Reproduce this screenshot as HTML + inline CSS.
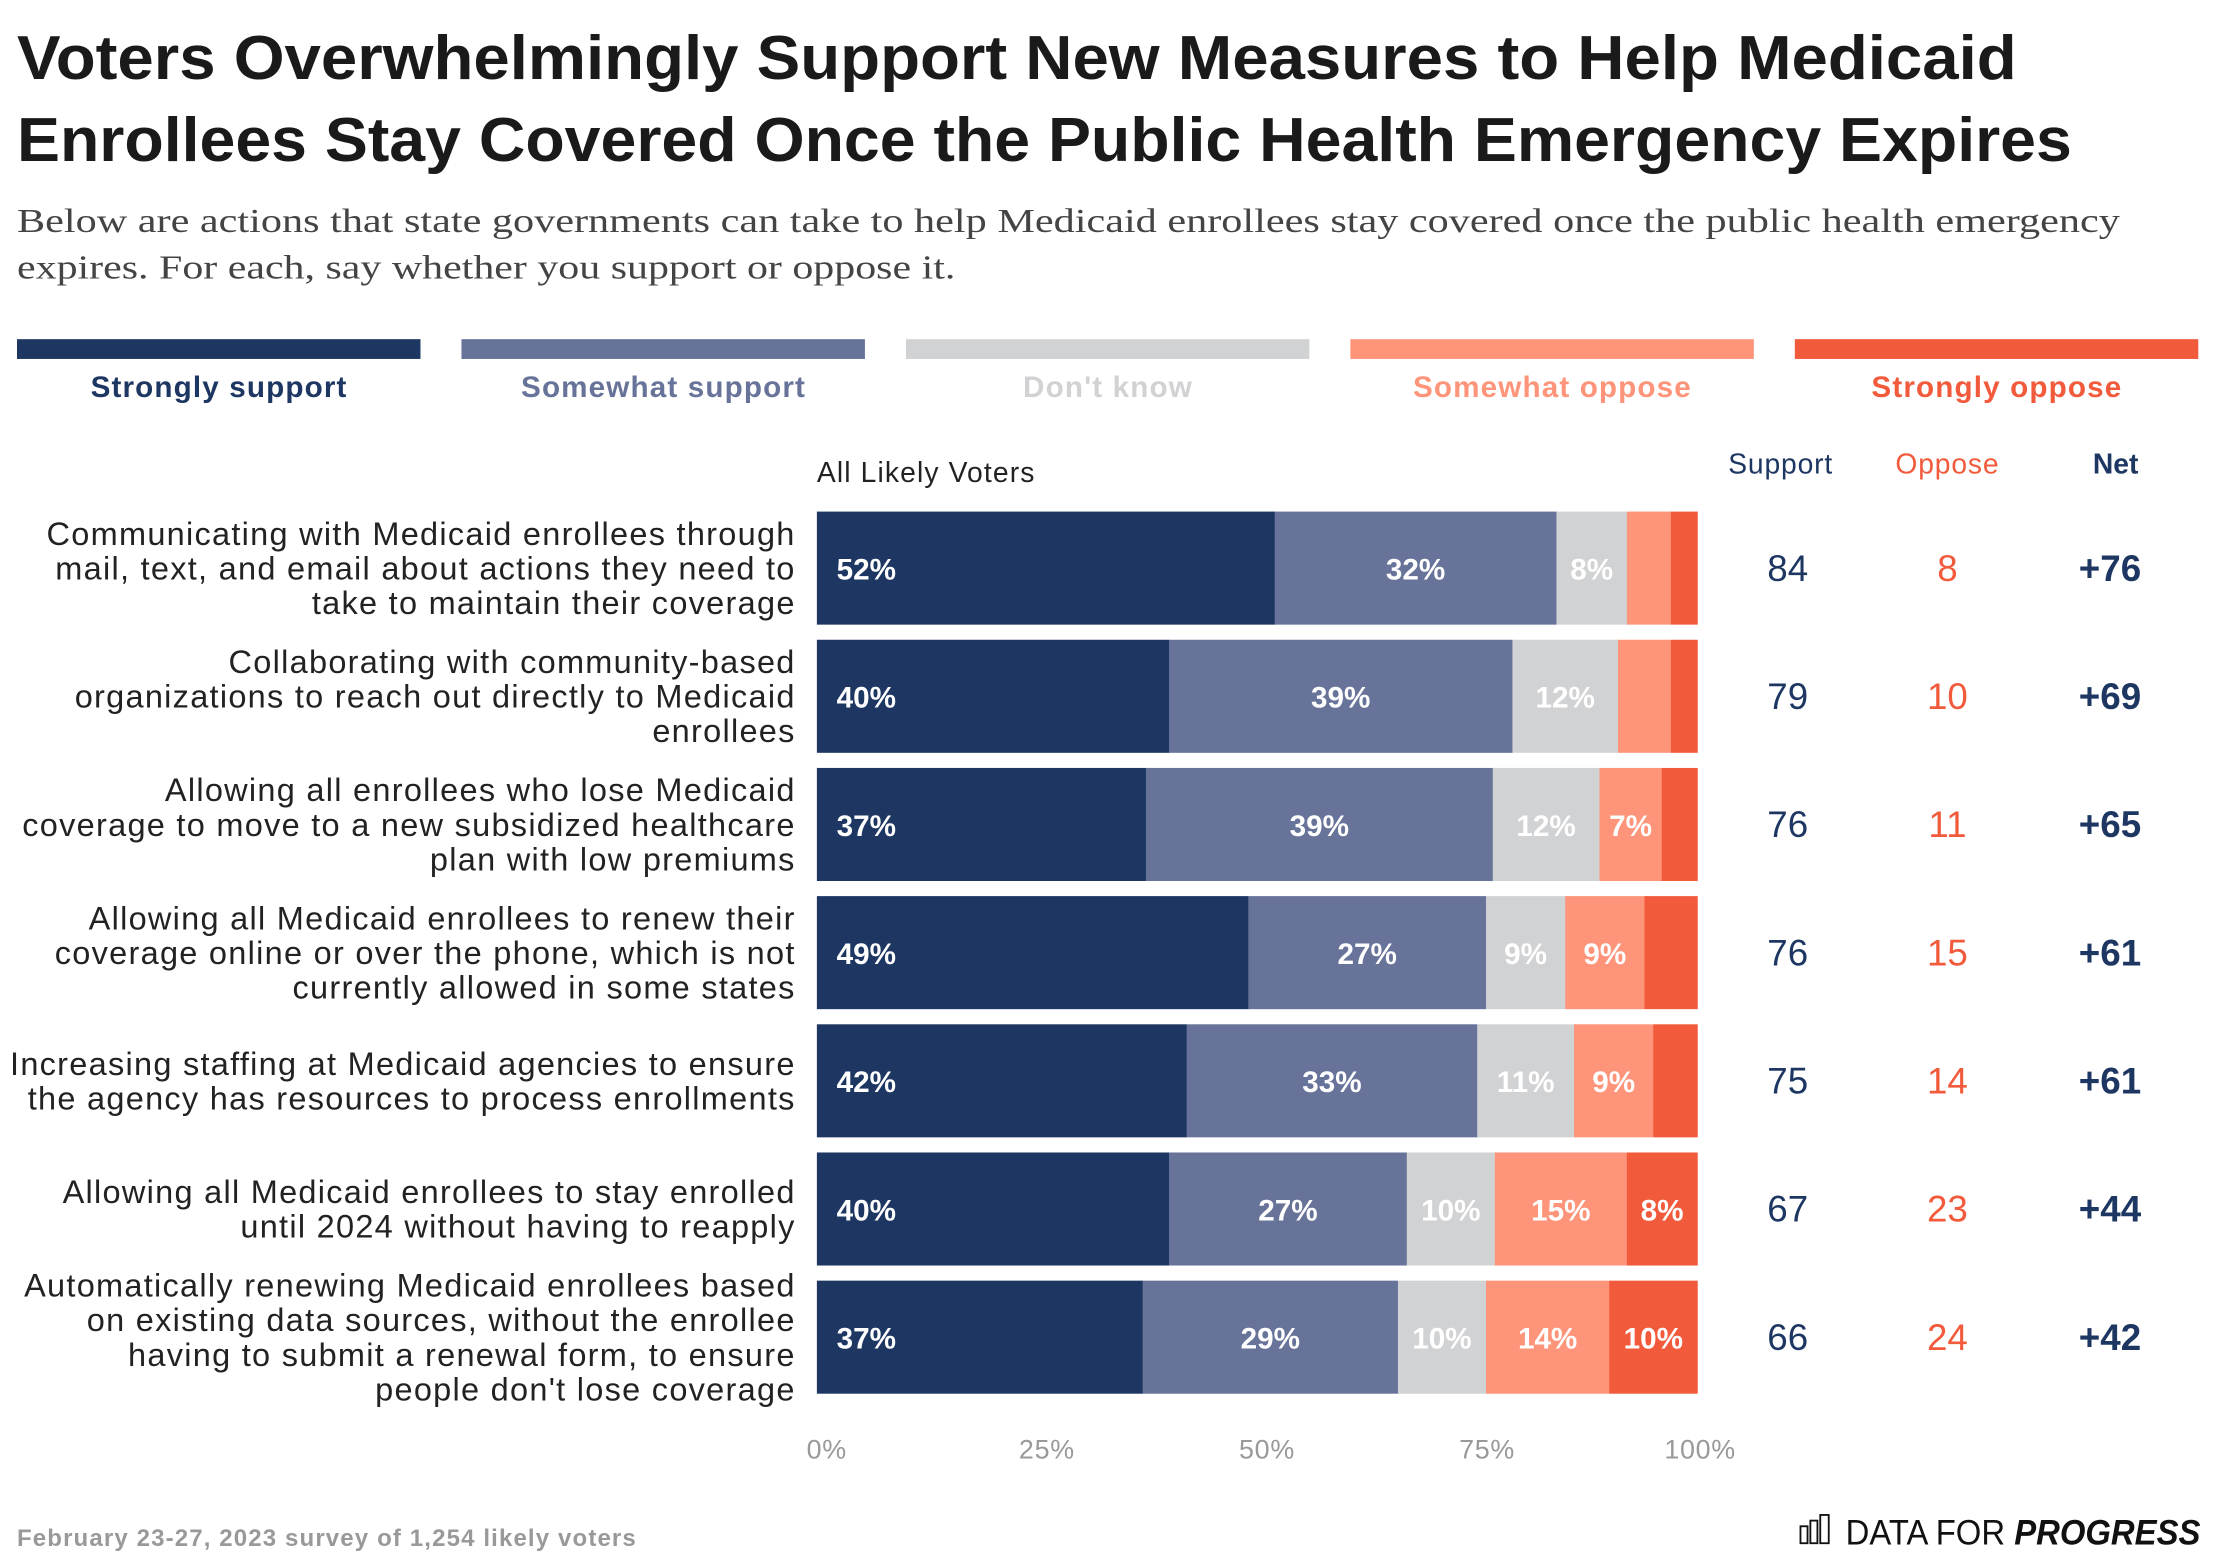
<!DOCTYPE html>
<html><head><meta charset="utf-8"><style>
html,body{margin:0;padding:0;background:#fff;}
svg{display:block;font-family:"Liberation Sans",sans-serif;}
</style></head><body>
<svg id="chart" width="2216" height="1564" viewBox="0 0 1568 1106.7" xmlns="http://www.w3.org/2000/svg">
<text x="12" y="56" font-size="44" font-weight="bold" fill="#1a1a1a" textLength="1415" lengthAdjust="spacingAndGlyphs">Voters Overwhelmingly Support New Measures to Help Medicaid</text>
<text x="12" y="114" font-size="44" font-weight="bold" fill="#1a1a1a" textLength="1454" lengthAdjust="spacingAndGlyphs">Enrollees Stay Covered Once the Public Health Emergency Expires</text>
<text x="12" y="164" font-size="24" font-family="Liberation Serif, serif" fill="#444" textLength="1488" lengthAdjust="spacingAndGlyphs">Below are actions that state governments can take to help Medicaid enrollees stay covered once the public health emergency</text>
<text x="12" y="197" font-size="24" font-family="Liberation Serif, serif" fill="#444" textLength="664" lengthAdjust="spacingAndGlyphs">expires. For each, say whether you support or oppose it.</text>
<g id="legend"></g>
<text x="578" y="341" font-size="20" letter-spacing="0.8" fill="#222">All Likely Voters</text>
<text x="1260" y="335" font-size="20" letter-spacing="0.6" fill="#1d3762" text-anchor="middle">Support</text>
<text x="1378" y="335" font-size="20" letter-spacing="0.6" fill="#f25a3c" text-anchor="middle">Oppose</text>
<text x="1497" y="335" font-size="20" font-weight="bold" fill="#1d3762" text-anchor="middle">Net</text>
<g id="bars"></g>
<g id="axis"></g>
<text x="12" y="1094" font-size="17" font-weight="bold" letter-spacing="0.8" fill="#999">February 23-27, 2023 survey of 1,254 likely voters</text>
<g>
<rect x="1274" y="1080" width="5" height="12" fill="none" stroke="#111" stroke-width="1.3"/>
<rect x="1281" y="1076" width="5" height="16" fill="none" stroke="#111" stroke-width="1.3"/>
<rect x="1288" y="1072" width="6" height="20" fill="none" stroke="#111" stroke-width="1.3"/>
<text x="1306" y="1093" font-size="25" fill="#111" textLength="251" lengthAdjust="spacingAndGlyphs">DATA FOR <tspan font-weight="bold" font-style="italic">PROGRESS</tspan></text>
</g>
</svg>
<script>
const categories = [
 ["Communicating with Medicaid enrollees through","mail, text, and email about actions they need to","take to maintain their coverage"],
 ["Collaborating with community-based","organizations to reach out directly to Medicaid","enrollees"],
 ["Allowing all enrollees who lose Medicaid","coverage to move to a new subsidized healthcare","plan with low premiums"],
 ["Allowing all Medicaid enrollees to renew their","coverage online or over the phone, which is not","currently allowed in some states"],
 ["Increasing staffing at Medicaid agencies to ensure","the agency has resources to process enrollments"],
 ["Allowing all Medicaid enrollees to stay enrolled","until 2024 without having to reapply"],
 ["Automatically renewing Medicaid enrollees based","on existing data sources, without the enrollee","having to submit a renewal form, to ensure","people don't lose coverage"]
];
const seriesNames = ["Strongly support","Somewhat support","Don't know","Somewhat oppose","Strongly oppose"];
const stronglySupport = [52,40,37,49,42,40,37];
const somewhatSupport = [32,39,39,27,33,27,29];
const dontKnow = [8,12,12,9,11,10,10];
const somewhatOppose = [5,6,7,9,9,15,14];
const stronglyOppose = [3,3,4,6,5,8,10];
const supportTotals = [84,79,76,76,75,67,66];
const opposeTotals = [8,10,11,15,14,23,24];
const netValues = ["+76","+69","+65","+61","+61","+44","+42"];
const tickValues = [0,25,50,75,100];
const tickLabels = ["0%","25%","50%","75%","100%"];

const colors = ["#1d3762","#68739a","#d1d2d4","#fe9479","#f25a3c"];
const NS = "http://www.w3.org/2000/svg";
const X0 = 578, X1 = 1201, ROW0 = 362, STEP = 90.7, BH = 80;
const xScale = v => X0 + (X1 - X0) * v / 100;
const yScale = i => ROW0 + i * STEP;
function mk(tag, attrs, parent, text){
  const e = document.createElementNS(NS, tag);
  for (const k in attrs) e.setAttribute(k, attrs[k]);
  if (text !== undefined) e.textContent = text;
  parent.appendChild(e); return e;
}
const lg = document.getElementById('legend');
seriesNames.forEach((n, i) => {
  const x = 12 + i * 314.5;
  const r = mk('rect', {x: x, y: 240, width: 285.5, height: 14, fill: colors[i]}, lg);
  
  
  const t = mk('text', {x: x + 143, y: 281, 'font-size': 21, 'font-weight': 'bold', 'letter-spacing': 0.8, fill: colors[i], 'text-anchor': 'middle'}, lg, n);
  
  
});
const bg = document.getElementById('bars');
const series = [stronglySupport, somewhatSupport, dontKnow, somewhatOppose, stronglyOppose];
categories.forEach((lines, i) => {
  const y = yScale(i), cy = y + BH / 2;
  const lh = 24.5, startY = cy - (lines.length - 1) * lh / 2 + 8;
  lines.forEach((ln, j) => {
    const t = mk('text', {x: 563, y: startY + j * lh, 'font-size': 23, 'letter-spacing': 0.9, fill: '#222', 'text-anchor': 'end'}, bg, ln);
    
    
  });
  const vals = series.map(s => s[i]);
  const total = vals.reduce((a, b) => a + b, 0);
  let cum = 0;
  vals.forEach((v, k) => {
    const a = xScale(cum * 100 / total), b = xScale((cum + v) * 100 / total);
    const r = mk('rect', {x: a, y: y, width: b - a + 0.3, height: BH, fill: colors[k]}, bg);
    
    
    if (v >= 7) {
      const t = mk('text', {x: k === 0 ? a + 14 : (a + b) / 2, y: cy + 8, 'font-size': 21, 'font-weight': 'bold', fill: '#fff', 'text-anchor': k === 0 ? 'start' : 'middle'}, bg, v + '%');
      
      
    }
    cum += v;
  });
  const s = mk('text', {x: 1265, y: cy + 9, 'font-size': 26, fill: '#1d3762', 'text-anchor': 'middle'}, bg, supportTotals[i]);
  
  
  const o = mk('text', {x: 1378, y: cy + 9, 'font-size': 26, fill: '#f25a3c', 'text-anchor': 'middle'}, bg, opposeTotals[i]);
  
  
  const n = mk('text', {x: 1493, y: cy + 9, 'font-size': 26, 'font-weight': 'bold', fill: '#1d3762', 'text-anchor': 'middle'}, bg, netValues[i]);
  
  
});
const ax = document.getElementById('axis');
tickValues.forEach((v, i) => {
  const t = mk('text', {x: xScale(v) + (v === 100 ? 2 : 7), y: 1032, 'font-size': 19, 'letter-spacing': 0.5, fill: '#999', 'text-anchor': 'middle'}, ax, tickLabels[i]);
  
  
});
</script>
</body></html>
